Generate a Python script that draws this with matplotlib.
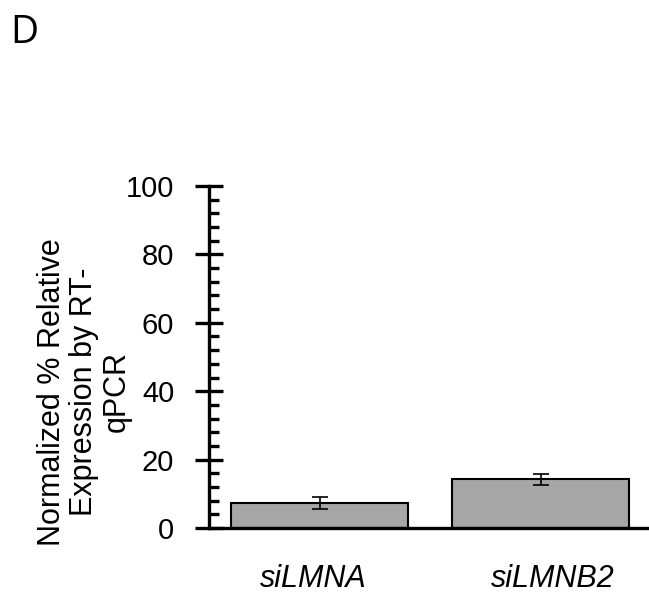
import matplotlib
matplotlib.use("Agg")
import matplotlib.pyplot as plt
import matplotlib.transforms as mtransforms
from matplotlib.ticker import MultipleLocator

categories = ["siLMNA", "siLMNB2"]
values = [7.3, 14.3]
errors = [1.7, 1.6]

plt.rcParams["font.family"] = ["Liberation Sans", "DejaVu Sans"]

fig = plt.figure(figsize=(6.49, 5.96), dpi=100)
ax = fig.add_axes([209 / 649, 1 - 528 / 596, 442 / 649, (528 - 186) / 596])

x = list(range(len(categories)))
ax.bar(x, values, width=0.8, color="#A6A6A6", edgecolor="black", linewidth=1.5, zorder=2)
ax.errorbar(x, values, yerr=errors, fmt="none", ecolor="black", elinewidth=1.2,
            capsize=6, capthick=1.2, zorder=3)

ax.set_xlim(-0.5, 1.5)
ax.set_ylim(0, 100)
ax.yaxis.set_major_locator(MultipleLocator(20))
ax.yaxis.set_minor_locator(MultipleLocator(4))
ax.set_xticks(x)
ax.set_xticklabels(categories, fontstyle="italic", fontsize=22)
ax.tick_params(axis="x", length=0, pad=26)
ax.tick_params(axis="y", which="major", direction="inout", length=20, width=2.4,
               labelsize=21, pad=15)
ax.tick_params(axis="y", which="minor", direction="in", length=7, width=2.4)

# nudge the category labels like the original layout
for lab, dx in zip(ax.get_xticklabels(), [-6, 12]):
    lab.set_transform(lab.get_transform() + mtransforms.ScaledTranslation(dx / 100, 0, fig.dpi_scale_trans))

for side in ["top", "right"]:
    ax.spines[side].set_visible(False)
ax.spines["left"].set_linewidth(2.4)
ax.spines["bottom"].set_linewidth(2.4)

fig.text(84 / 649, 1 - 392 / 596, "Normalized % Relative\nExpression by RT-\nqPCR",
         fontsize=22, rotation=90, ha="center", va="center", linespacing=1.1)

fig.text(10 / 649, 1 - 43 / 596, "D", fontsize=28, family=["Open Sans", "DejaVu Sans"])

fig.savefig("out.png", dpi=100)
